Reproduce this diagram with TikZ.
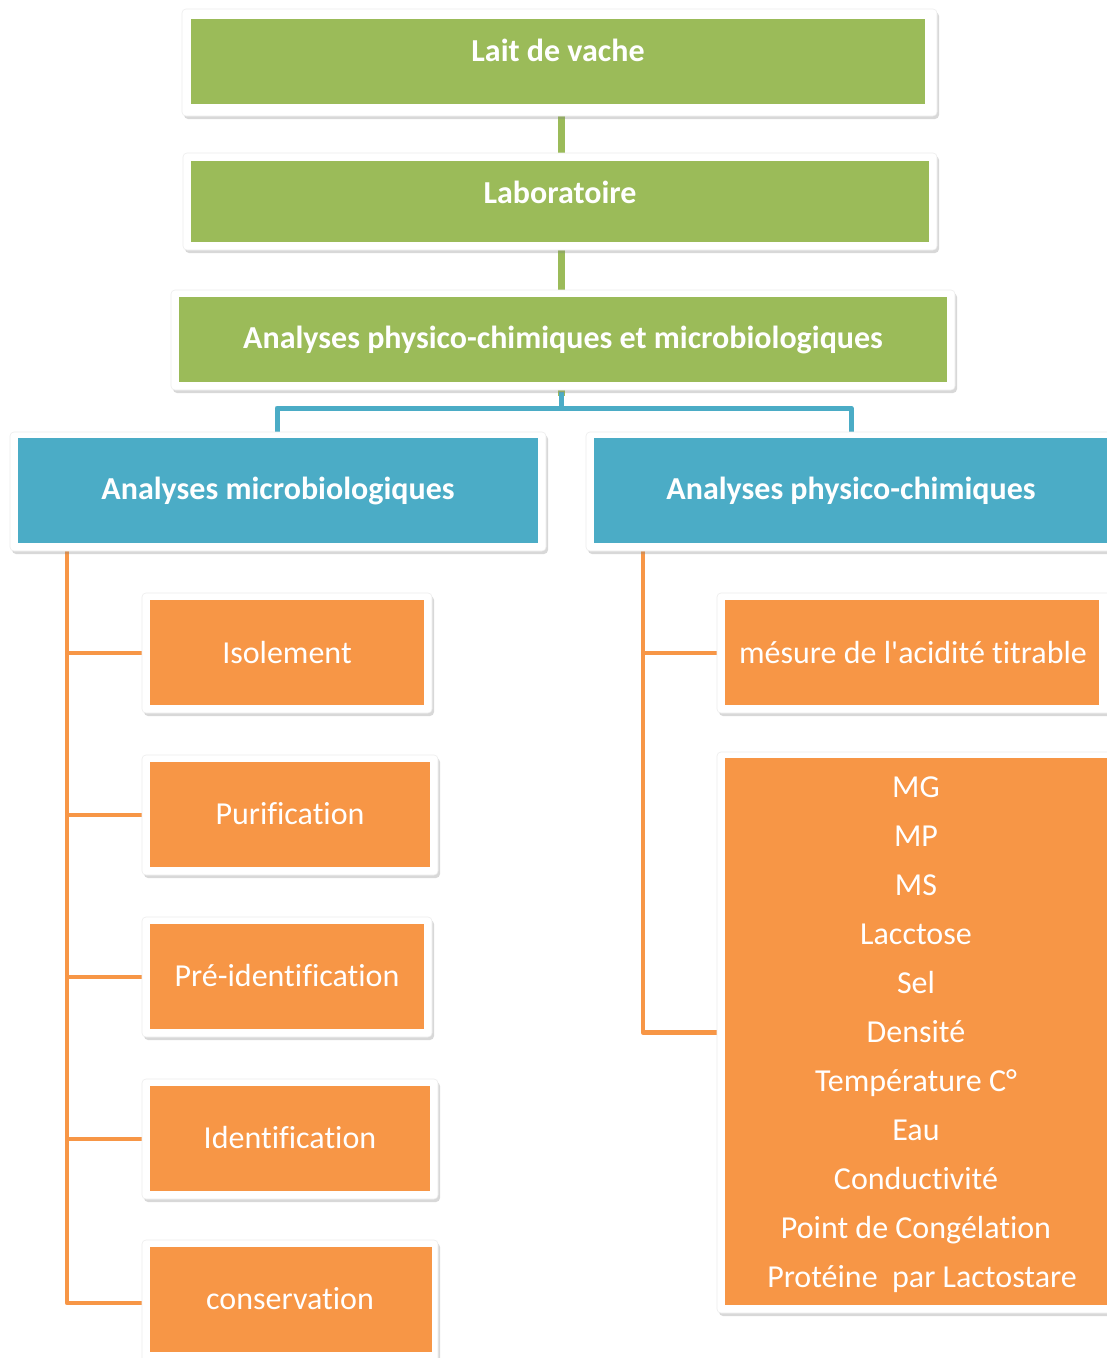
\documentclass[tikz,border=0pt]{standalone}
\usepackage{fontspec}
\setmainfont[Ligatures={NoCommon}]{Carlito}
\newfontfamily\plainf[Ligatures={NoCommon}]{Carlito}
\usetikzlibrary{shadows,fit}
\definecolor{gr}{HTML}{9BBB59}
\definecolor{bl}{HTML}{4BACC6}
\definecolor{og}{HTML}{F79646}
\pgfdeclarelayer{bg}
\pgfdeclarelayer{paper}
\pgfsetlayers{paper,bg,main}
\begin{document}
\begin{tikzpicture}[x=1pt,y=-1pt,
  frame/.style={draw=black!7, fill=white, rounded corners=4pt, line width=0.6pt,
    inner sep=0pt, outer sep=0pt,
    drop shadow={opacity=0.3, shadow xshift=2pt, shadow yshift=-3pt}},
  infill/.style={fill=#1, inner sep=0pt, outer sep=0pt},
  htext/.style={text=white, font=\fontsize{32}{38}\selectfont\bfseries, inner sep=0pt},
  otext/.style={text=white, font=\fontsize{32}{38}\selectfont, inner sep=0pt},
  gline/.style={draw=gr, line width=7pt},
  bline/.style={draw=bl, line width=5pt, line join=round},
  oline/.style={draw=og, line width=4.5pt, line join=round}]
\useasboundingbox (0,0) rectangle (1107,1358);
\begin{pgfonlayer}{paper}
\fill[white] (0,0) rectangle (1107,1358);
\end{pgfonlayer}

% green column
\node[frame, fit={(182,9) (937,116)}] (g1o) {};
\node[infill=gr, fit={(191,19) (925,104)}] (g1) {};
\node[htext] (t1) at (558,50) {Lait de vache};

\node[frame, fit={(183,153) (937,250)}] (g2o) {};
\node[infill=gr, fit={(191,161) (929,242)}] (g2) {};
\node[htext] (t2) at (560,192) {Laboratoire};

\node[frame, fit={(171,290) (955,390)}] (g3o) {};
\node[infill=gr, fit={(179,297) (947,382)}] (g3) {};
\node[htext] (t3) at (563,340) {Analyses physico-chimiques et microbiologiques};

% blue
\node[frame, fit={(10,432) (546,551)}] (b1o) {};
\node[infill=bl, fit={(18,438) (538,543)}] (b1) {};
\node[htext] (tb1) at (278,491) {Analyses microbiologiques};

\node[frame, fit={(586,432) (1120,551)}] (b2o) {};
\node[infill=bl, fit={(594,438) (1112,543)}] (b2) {};
\node[htext] (tb2) at (851,491) {Analyses physico-chimiques};

% orange left
\node[frame, fit={(142,593) (432,713)}] (l1o) {};
\node[infill=og, fit={(150,600) (424,705)}] (l1) {};
\node[otext] (tl1) at (287,652) {Isolement};

\node[frame, fit={(142,755) (438,875)}] (l2o) {};
\node[infill=og, fit={(150,762) (430,867)}] (l2) {};
\node[otext] (tl2) at (290,814) {Purification};

\node[frame, fit={(142,917) (432,1037)}] (l3o) {};
\node[infill=og, fit={(150,924) (424,1029)}] (l3) {};
\node[otext] (tl3) at (287,975) {Pré-identification};

\node[frame, fit={(142,1079) (438,1199)}] (l4o) {};
\node[infill=og, fit={(150,1086) (430,1191)}] (l4) {};
\node[otext] (tl4) at (290,1137) {Identification};

\node[frame, fit={(142,1240) (438,1366)}] (l5o) {};
\node[infill=og, fit={(150,1247) (432,1352)}] (l5) {};
\node[otext] (tl5) at (290,1299) {conservation};

% orange right
\node[frame, fit={(717,593) (1120,713)}] (r1o) {};
\node[infill=og, fit={(725,600) (1099,705)}] (r1) {};
\node[otext] (tr1) at (913,652) {mésure de l{\plainf '}acidité titrable};

\node[frame, fit={(717,752) (1120,1313)}] (r2o) {};
\node[infill=og, fit={(725,758) (1120,1305)}] (r2) {};
\node[text=white, font=\fontsize{32}{49}\selectfont, align=center, inner sep=0pt] (tr2) at (916,1035)
  {MG\\MP\\MS\\Lacctose\\Sel\\Densité\\Température C°\\Eau\\Conductivité\\Point de Congélation\\\hspace*{12pt}Protéine\ \ par Lactostare};

% connectors
\coordinate (gx) at (561,0);
\coordinate (bx1) at (277,0);
\coordinate (bx2) at (851,0);
\coordinate (jn) at (561,408);
\coordinate (lx) at (67,0);
\coordinate (rx) at (643,0);
\begin{pgfonlayer}{bg}
\draw[gline] (g1o.south -| gx) -- (g2o.north -| gx);
\draw[gline] (g2o.south -| gx) -- (g3o.north -| gx);
\draw[gline] (g3o.south -| gx) -- ++(0,6);
\draw[bline] (jn) -- ++(0,-16);
\draw[bline] (b1o.north -| bx1) |- (jn) -| (b2o.north -| bx2);
\draw[oline] (b1o.south -| lx) |- (l5o.west);
\draw[oline] (lx |- l1o.west) -- (l1o.west);
\draw[oline] (lx |- l2o.west) -- (l2o.west);
\draw[oline] (lx |- l3o.west) -- (l3o.west);
\draw[oline] (lx |- l4o.west) -- (l4o.west);
\draw[oline] (b2o.south -| rx) |- (r2o.west);
\draw[oline] (rx |- r1o.west) -- (r1o.west);
\end{pgfonlayer}
\end{tikzpicture}
\end{document}
